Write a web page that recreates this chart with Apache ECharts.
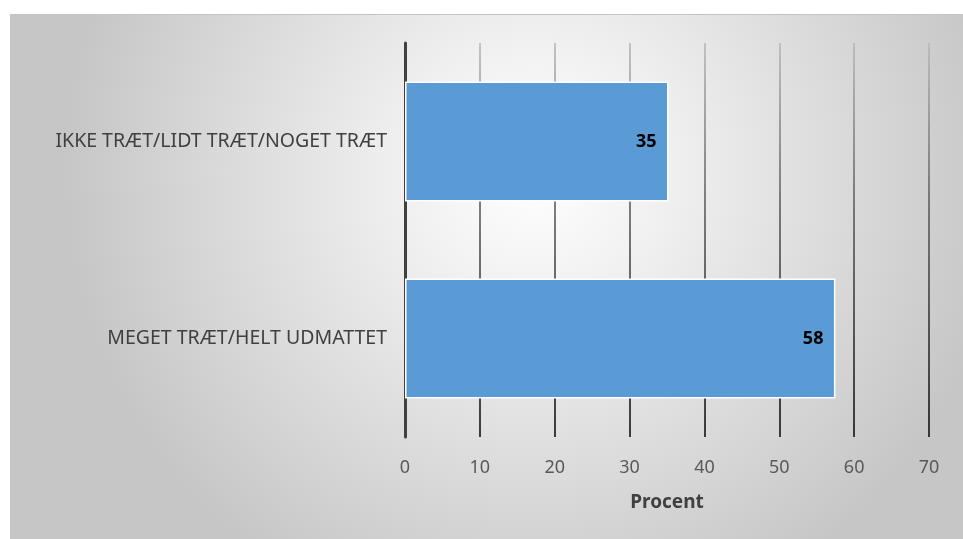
<!DOCTYPE html>
<html lang="da">
<head>
  <meta http-equiv="Content-Type" content="text/html; charset=UTF-8">
  <title>Træthed</title>
  <style>
    html, body { margin: 0; padding: 0; background: #fff; }
    #myChart {
      position: absolute;
      left: 10px;
      top: 14px;
      width: 953px;
      height: 525px;
      border-top: 1px solid #c4c4c4;
      border-left: 1px solid #c4c4c4;
      box-sizing: border-box;
    }
  </style>
</head>
<body>
  <div id="myChart"></div>
  <script src="https://cdn.jsdelivr.net/npm/echarts@6/dist/echarts.min.js"></script>
  <script>
    const categories = ['MEGET TRÆT/HELT UDMATTET', 'IKKE TRÆT/LIDT TRÆT/NOGET TRÆT'];
    const values = [57.5, 35.2];
    const xTicks = [0, 10, 20, 30, 40, 50, 60, 70];

    const myChart = echarts.init(document.getElementById('myChart'));
    const gridTop = 28, gridBottom = 102;
    const font = 'Noto Sans';
    const option = {
      backgroundColor: {
        type: 'radial',
        x: 0.55, y: 0.3, r: 0.9,
        colorStops: [
          { offset: 0, color: '#ffffff' },
          { offset: 0.25, color: '#f2f2f2' },
          { offset: 1, color: '#c6c6c6' }
        ]
      },
      animation: false,
      grid: { left: 394, right: 34, top: gridTop, bottom: gridBottom },
      xAxis: {
        type: 'value',
        min: xTicks[0],
        max: xTicks[xTicks.length - 1],
        interval: 10,
        name: 'Procent',
        nameLocation: 'middle',
        nameGap: 56,
        nameTextStyle: { fontFamily: font, fontSize: 19, fontWeight: 'bold', color: '#404040' },
        axisLine: { show: false },
        axisTick: { show: false },
        axisLabel: { fontFamily: font, fontSize: 18, color: '#595959', margin: 22 },
        splitLine: {
          show: true,
          lineStyle: {
            width: 1.6,
            color: {
              type: 'linear', global: true,
              x: 0, y: gridTop, x2: 0, y2: 525 - gridBottom,
              colorStops: [
                { offset: 0, color: '#b8b8b8' },
                { offset: 0.4, color: '#606060' },
                { offset: 1, color: '#111111' }
              ]
            }
          }
        }
      },
      yAxis: {
        type: 'category',
        data: categories,
        axisLine: { show: true, lineStyle: { color: '#404040', width: 3 } },
        axisTick: { show: false },
        axisLabel: { fontFamily: font, fontSize: 19.5, color: '#404040', margin: 18 }
      },
      series: [{
        type: 'bar',
        data: values,
        barWidth: 120,
        itemStyle: { color: '#5b9bd5', borderColor: '#ffffff', borderWidth: 1.5 },
        label: {
          show: true,
          position: 'insideRight',
          distance: 12,
          fontFamily: font,
          fontSize: 18,
          fontWeight: 'bold',
          color: '#000000',
          formatter: p => Math.round(p.value)
        },
        z: 3
      }]
    };
    myChart.setOption(option);
  </script>
</body>
</html>
